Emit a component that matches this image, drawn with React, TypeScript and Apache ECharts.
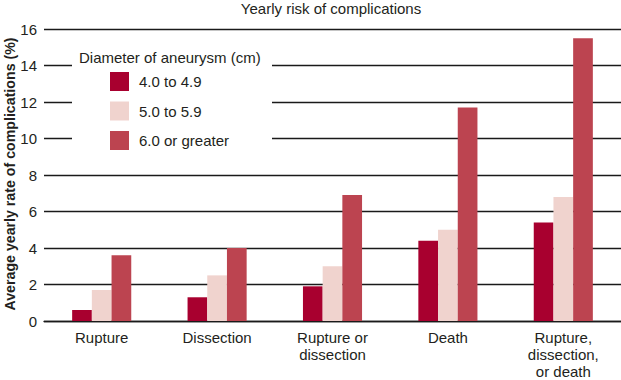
import React, { useEffect, useRef } from "react";
import * as echarts from "echarts";

const categories = [
  "Rupture",
  "Dissection",
  "Rupture or\ndissection",
  "Death",
  "Rupture,\ndissection,\nor death",
];
const seriesNames = ["4.0 to 4.9", "5.0 to 5.9", "6.0 or greater"];
const small = [0.6, 1.3, 1.9, 4.4, 5.4];
const medium = [1.7, 2.5, 3.0, 5.0, 6.8];
const large = [3.6, 4.0, 6.9, 11.7, 15.5];
const colors = ["#A8002F", "#F0D3CE", "#BC4450"];
const yTicks = { min: 0, max: 16, interval: 2 };
const yTitle = "Average yearly rate of complications (%)";

const FONT = "'Liberation Sans', Arial, Helvetica, sans-serif";
const TXT = "#231F20";

export default function App() {
  const ref = useRef<HTMLDivElement>(null);
  useEffect(() => {
    if (!ref.current) return;
    const chart = echarts.init(ref.current, undefined, { renderer: "svg" });
    const values = [small, medium, large];
    chart.setOption({
      animation: false,
      textStyle: { fontFamily: FONT, color: TXT },
      grid: {
        left: 44,
        right: 0,
        top: 29,
        bottom: 59,
        containLabel: false,
        outerBoundsMode: "none",
      },
      legend: {
        orient: "vertical",
        left: 110,
        top: 72,
        padding: 0,
        itemWidth: 19,
        itemHeight: 19,
        itemGap: 10.5,
        icon: "rect",
        data: seriesNames,
        textStyle: { fontSize: 15, color: TXT, fontFamily: FONT, padding: [0, 0, 0, 5] },
        selectedMode: false,
        z: 10,
      },
      graphic: [
        {
          type: "rect",
          z: 5,
          shape: { x: 72, y: 44, width: 200, height: 112 },
          style: { fill: "#ffffff" },
        },
        {
          type: "text",
          z: 10,
          x: 79,
          y: 57,
          style: {
            text: "Diameter of aneurysm (cm)",
            fontSize: 15,
            fontFamily: FONT,
            fill: TXT,
            textVerticalAlign: "middle",
          },
        },
        {
          type: "text",
          z: 10,
          x: 331,
          y: 8,
          style: {
            text: "Yearly risk of complications",
            fontSize: 15,
            fontFamily: FONT,
            fill: TXT,
            textAlign: "center",
            textVerticalAlign: "middle",
          },
        },
        {
          type: "text",
          z: 10,
          x: 10,
          y: 174,
          rotation: Math.PI / 2,
          style: {
            text: yTitle,
            fontSize: 14.2,
            fontWeight: "bold",
            fontFamily: FONT,
            fill: TXT,
            textAlign: "center",
            textVerticalAlign: "middle",
          },
        },
      ],
      xAxis: {
        type: "category",
        data: categories,
        axisLine: { show: true, lineStyle: { color: "#1a1a1a", width: 1.3 } },
        axisTick: { show: false },
        axisLabel: {
          fontSize: 15,
          color: TXT,
          fontFamily: FONT,
          lineHeight: 17,
          margin: 8,
          interval: 0,
        },
      },
      yAxis: {
        type: "value",
        min: yTicks.min,
        max: yTicks.max,
        interval: yTicks.interval,
        axisLine: { show: false },
        axisTick: { show: false },
        axisLabel: { fontSize: 15, color: TXT, fontFamily: FONT, margin: 7 },
        splitLine: { lineStyle: { color: "#1a1a1a", width: 1.3 } },
      },
      series: seriesNames.map((name, i) => ({
        name,
        type: "bar",
        data: values[i],
        barWidth: 19.7,
        barGap: "0%",
        itemStyle: { color: colors[i] },
      })),
    });
    return () => chart.dispose();
  }, []);
  return <div ref={ref} style={{ width: 621, height: 380, position: "absolute", left: 0, top: 0 }} />;
}
